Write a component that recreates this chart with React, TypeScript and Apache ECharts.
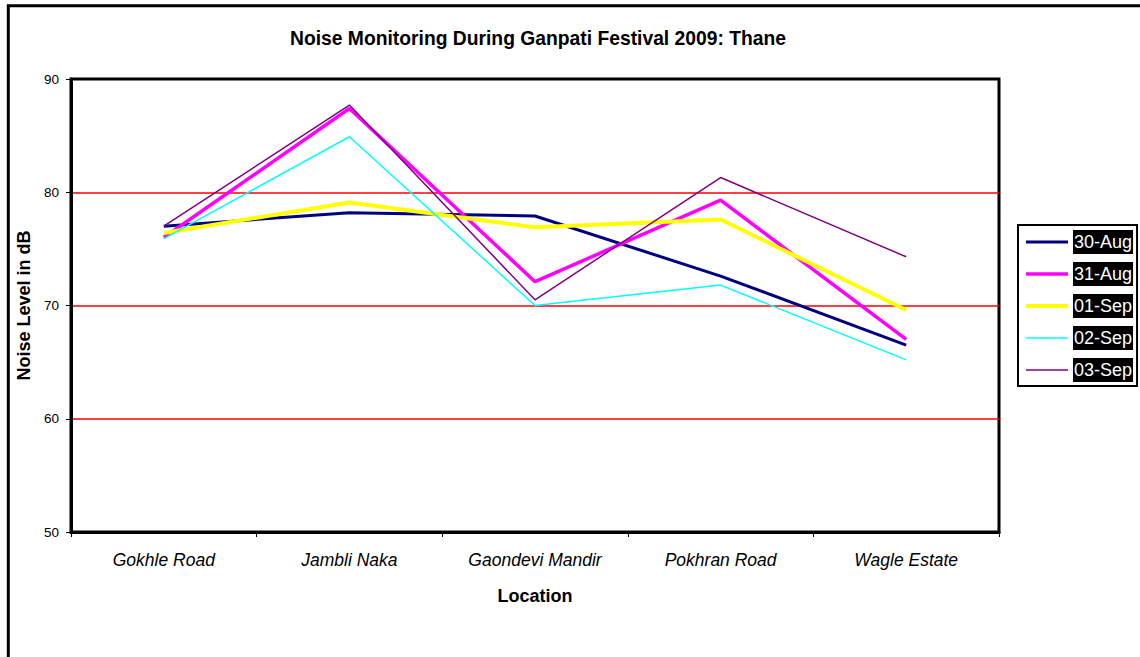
import React, { useEffect, useRef } from "react";
import * as echarts from "echarts";

const categories = ["Gokhle Road", "Jambli Naka", "Gaondevi Mandir", "Pokhran Road", "Wagle Estate"];
const aug30 = [77.0, 78.2, 77.9, 72.6, 66.5];
const aug31 = [76.0, 87.4, 72.1, 79.3, 67.0];
const sep01 = [76.4, 79.1, 76.9, 77.6, 69.6];
const sep02 = [75.9, 84.9, 70.0, 71.8, 65.2];
const sep03 = [77.0, 87.7, 70.5, 81.3, 74.3];
const seriesNames = ["30-Aug", "31-Aug", "01-Sep", "02-Sep", "03-Sep"];
const seriesColors = ["#000080", "#FF00FF", "#FFFF00", "#00FFFF", "#800080"];
const seriesWidths = [3, 3.5, 4, 1.5, 1.5];
const seriesData = [aug30, aug31, sep01, sep02, sep03];

const FONT = "'Liberation Sans', Arial, sans-serif";

export default function App() {
  const ref = useRef<HTMLDivElement>(null);
  useEffect(() => {
    if (!ref.current) return;
    const chart = echarts.init(ref.current, null, { renderer: "svg" });
    chart.setOption({
      animation: false,
      backgroundColor: "#fff",
      textStyle: { fontFamily: FONT },
      title: {
        text: "Noise Monitoring During Ganpati Festival 2009: Thane",
        left: 538,
        top: 29,
        textAlign: "center",
        padding: 0,
        textStyle: { fontFamily: FONT, fontSize: 19.3, fontWeight: "bold", color: "#000" },
      },
      graphic: [
        {
          type: "rect",
          shape: { x: 8.3, y: 5.8, width: 1200, height: 700 },
          style: { fill: "none", stroke: "#000", lineWidth: 3 },
          silent: true,
          z: -10,
        },
      ],
      legend: {
        orient: "vertical",
        left: 1018,
        top: 225,
        padding: [5, 4, 4, 6],
        itemWidth: 42,
        itemHeight: 14,
        itemGap: 8,
        borderColor: "#000",
        borderWidth: 2,
        backgroundColor: "#fff",
        data: seriesNames.map((name, i) => ({
          name,
          lineStyle: { color: seriesColors[i], width: seriesWidths[i] },
        })),
        itemStyle: { color: "rgba(0,0,0,0)", borderWidth: 0, borderColor: "rgba(0,0,0,0)" },
        textStyle: {
          fontFamily: FONT,
          fontSize: 18,
          color: "#fff",
          backgroundColor: "#000",
          padding: [3, 1, 3, 1],
          lineHeight: 18,
        },
      },
      grid: {
        left: 71,
        right: 141,
        top: 79,
        bottom: 125,
        show: true,
        borderColor: "#000",
        borderWidth: 3,
        backgroundColor: "#fff",
      },
      xAxis: {
        type: "category",
        data: categories,
        boundaryGap: true,
        name: "Location",
        nameLocation: "middle",
        nameGap: 55,
        nameTextStyle: { fontFamily: FONT, fontSize: 18, fontWeight: "bold", color: "#000" },
        axisLine: { show: true, lineStyle: { color: "#000", width: 3 } },
        axisTick: { show: true, length: 5, lineStyle: { color: "#000", width: 1 } },
        axisLabel: {
          fontFamily: FONT,
          fontSize: 17.5,
          fontStyle: "italic",
          color: "#000",
          margin: 19,
        },
        splitLine: { show: false },
      },
      yAxis: {
        type: "value",
        min: 50,
        max: 90,
        interval: 10,
        name: "Noise Level in dB",
        nameLocation: "middle",
        nameGap: 37,
        nameTextStyle: { fontFamily: FONT, fontSize: 18, fontWeight: "bold", color: "#000" },
        axisLine: { show: true, lineStyle: { color: "#000", width: 3 } },
        axisTick: { show: true, length: 5, lineStyle: { color: "#000", width: 1 } },
        axisLabel: { fontFamily: FONT, fontSize: 13.5, color: "#000", margin: 12 },
        splitLine: {
          show: true,
          lineStyle: { color: ["#000", "#FF0000", "#FF0000", "#FF0000", "#000"], width: 1.5 },
        },
      },
      series: seriesNames.map((name, i) => ({
        name,
        type: "line",
        data: seriesData[i],
        symbol: "none",
        showSymbol: false,
        lineStyle: { color: seriesColors[i], width: seriesWidths[i] },
        itemStyle: { color: seriesColors[i] },
      })),
    });
    return () => chart.dispose();
  }, []);
  return (
    <div
      ref={ref}
      style={{ position: "absolute", left: 0, top: 0, width: 1140, height: 657 }}
    />
  );
}
